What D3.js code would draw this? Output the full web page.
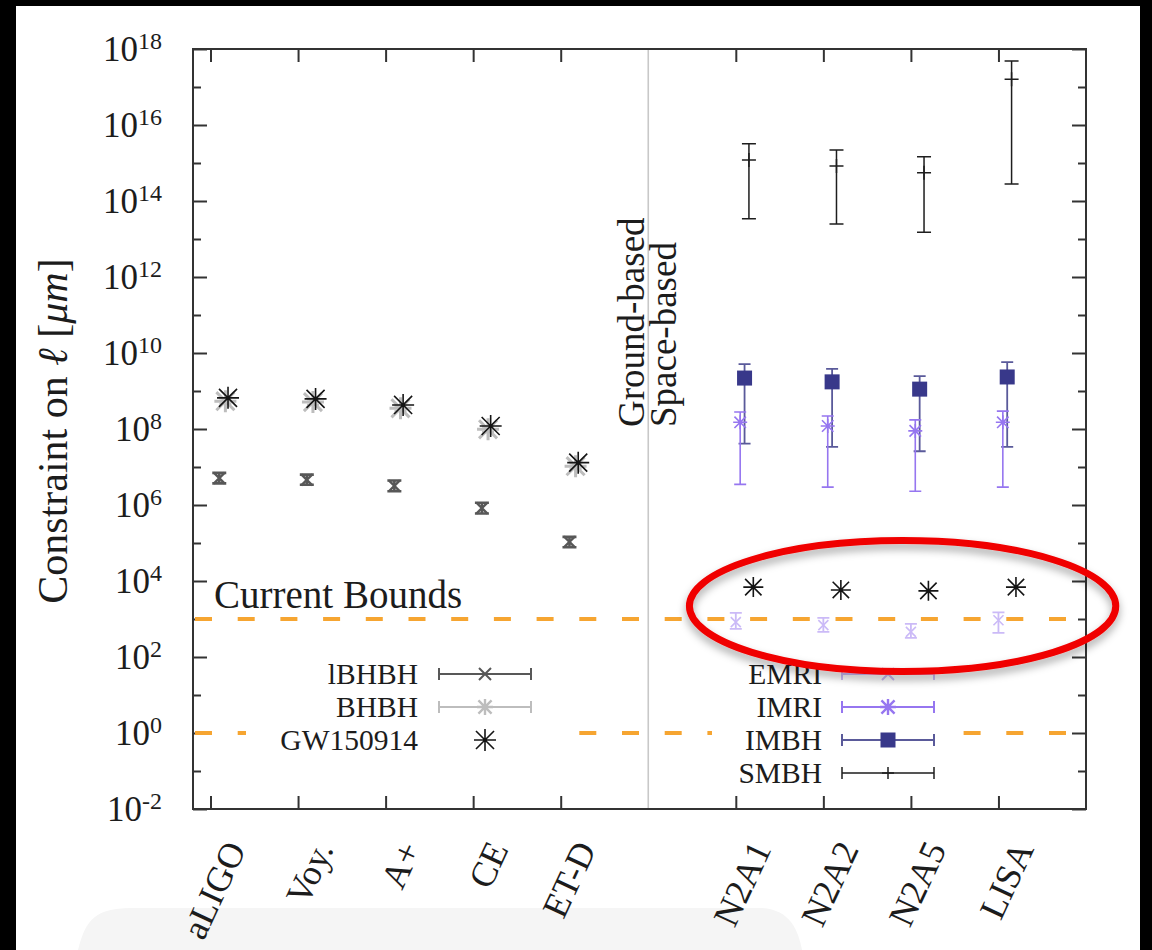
<!DOCTYPE html>
<html><head><meta charset="utf-8">
<script src="https://cdn.jsdelivr.net/npm/d3@7"></script>
<style>
body{margin:0;background:#fff;}
svg{display:block;font-family:"Liberation Serif","DejaVu Serif","Times New Roman",serif;}
</style></head><body>
<svg id="c" width="1152" height="950"></svg>
<script>
// ---------- data ----------
const categories = ["aLIGO","Voy.","A+","CE","ET-D","N2A1","N2A2","N2A5","LISA"];
const catPos     = [1,2,3,4,5,7,8,9,10];
const groundPos  = [1,2,3,4,5];
const spacePos   = [7,8,9,10];
const separatorPos = 6;

// ground-based
const lBHBH     = [5.1e6, 4.6e6, 3.2e6, 8.3e5, 1.07e5];
const lBHBH_lo  = [3.7e6, 3.4e6, 2.3e6, 6.0e5, 7.7e4];
const lBHBH_hi  = [7.0e6, 6.3e6, 4.4e6, 1.15e6, 1.45e5];
const BHBH      = [5.4e8, 5.1e8, 3.5e8, 9.8e7, 1.05e7];
const BHBH_lo   = [4.6e8, 4.3e8, 3.0e8, 8.3e7, 8.9e6];
const BHBH_hi   = [6.4e8, 6.0e8, 4.1e8, 1.16e8, 1.24e7];
const GW150914_ground = [6.6e8, 6.2e8, 4.3e8, 1.2e8, 1.3e7];

// space-based
const GW150914_space = [6.9e3, 5.8e3, 5.5e3, 6.9e3];
const EMRI      = [8.3e2, 6.9e2, 4.6e2, 9.3e2];
const EMRI_lo   = [5.5e2, 4.6e2, 3.2e2, 4.3e2];
const EMRI_hi   = [1.45e3, 1.07e3, 7.4e2, 1.5e3];
const IMRI      = [1.5e8, 1.2e8, 8.9e7, 1.5e8];
const IMRI_lo   = [3.5e6, 2.95e6, 2.3e6, 2.95e6];
const IMRI_hi   = [2.8e8, 2.2e8, 1.74e8, 2.95e8];
const IMBH      = [2.19e9, 1.74e9, 1.12e9, 2.34e9];
const IMBH_lo   = [4.1e7, 3.4e7, 2.6e7, 3.4e7];
const IMBH_hi   = [5.1e9, 3.8e9, 2.45e9, 5.75e9];
const SMBH      = [1.2e15, 8.3e14, 5.5e14, 1.6e17];
const SMBH_lo   = [3.4e13, 2.5e13, 1.5e13, 2.8e14];
const SMBH_hi   = [3.2e15, 2.2e15, 1.45e15, 4.8e17];

const yTickExps = [-2,0,2,4,6,8,10,12,14,16,18];
const boundLines = [1e3, 1e0];
const boundLabel = "Current Bounds";
const yTitleParts = ["Constraint on ", "ℓ", " [", "μm", "]"];
const groundLabel = "Ground-based";
const spaceLabel = "Space-based";

// annotation ellipse (data coordinates)
const ellipseX = [6.47, 11.34];
const ellipseY = [41.5, 1.16e5];

// ---------- styles ----------
const C = {
  lBHBH:"#585858", BHBH:"#bdbdbd", GW:"#151515",
  EMRI:"#cbbaf7", IMRI:"#9676f0", IMBH:"#38388a", IMBHbar:"#5a5a9a", SMBH:"#1e1e1e",
  orange:"#f6a531", axis:"#333", text:"#1c1c1c"
};
const off = {lBHBH:0.1, BHBH:0.17, GW:0.2, EMRI:0.0, IMRI:0.05, IMBH:0.1, SMBH:0.15};

const svg = d3.select("#c");
svg.append("rect").attr("width",1152).attr("height",950).attr("fill","#fff");

const defs = svg.append("defs");
const f = defs.append("filter").attr("id","sh").attr("x","-20%").attr("y","-30%").attr("width","140%").attr("height","160%");
f.append("feDropShadow").attr("dx",0).attr("dy",5).attr("stdDeviation",4).attr("flood-color","#000").attr("flood-opacity",0.35);

// bottom faint shape
svg.append("path").attr("d","M78,950 C86,918 96,909 130,908 L760,908 C790,909 798,930 802,950 Z").attr("fill","#f5f5f5");

const x = d3.scaleLinear().domain([0.8, 11]).range([193, 1086]);
const y = d3.scaleLog().domain([1e-2, 1e18]).range([809, 49]);
const X0 = x.range()[0], X1 = x.range()[1], Y0 = y.range()[1], Y1 = y.range()[0];

// separator line
svg.append("line").attr("x1",x(separatorPos)).attr("x2",x(separatorPos)).attr("y1",Y0).attr("y2",Y1)
  .attr("stroke","#c8c8c8").attr("stroke-width",1.6);

// axes ticks
const yMajor = yTickExps.map(e=>Math.pow(10,e));
const yMinor = yTickExps.slice(0,-1).map(e=>Math.pow(10,e+1));
function styleAxis(g){ g.select(".domain").remove(); g.selectAll("line").attr("stroke",C.axis).attr("stroke-width",2); }
svg.append("g").attr("transform",`translate(${X0},0)`).call(d3.axisRight(y).tickValues(yMajor).tickSize(14).tickFormat("")).call(styleAxis);
svg.append("g").attr("transform",`translate(${X0},0)`).call(d3.axisRight(y).tickValues(yMinor).tickSize(8).tickFormat("")).call(styleAxis);
svg.append("g").attr("transform",`translate(${X1},0)`).call(d3.axisLeft(y).tickValues(yMajor).tickSize(14).tickFormat("")).call(styleAxis);
svg.append("g").attr("transform",`translate(${X1},0)`).call(d3.axisLeft(y).tickValues(yMinor).tickSize(8).tickFormat("")).call(styleAxis);
svg.append("g").attr("transform",`translate(0,${Y1})`).call(d3.axisTop(x).tickValues(catPos).tickSize(13).tickFormat("")).call(styleAxis);
svg.append("g").attr("transform",`translate(0,${Y0})`).call(d3.axisBottom(x).tickValues(catPos).tickSize(13).tickFormat("")).call(styleAxis);

// y tick labels
yTickExps.forEach(e=>{
  const t = svg.append("text").attr("x",X0-31).attr("y",y(Math.pow(10,e))+12)
    .attr("text-anchor","end").attr("fill",C.text).attr("font-size",35);
  t.append("tspan").text("10");
  t.append("tspan").attr("font-size",24).attr("dy",-12).text(String(e));
});

// y title
{
  const t = svg.append("text").attr("transform",`translate(67,${(Y0+Y1)/2+2}) rotate(-90)`)
    .attr("text-anchor","middle").attr("fill",C.text).attr("font-size",42);
  yTitleParts.forEach((p,i)=>{ const s=t.append("tspan").text(p); if(i===3||i===1) s.attr("font-style","italic"); });
}

// category labels
categories.forEach((c,i)=>{
  svg.append("text").attr("transform",`translate(${x(catPos[i])+36},849) rotate(-65)`)
    .attr("text-anchor","end").attr("fill",C.text).attr("font-size",36).text(c);
});

// orange bound lines
boundLines.forEach(v=>{
  svg.append("line").attr("x1",X0+2).attr("x2",X1-2).attr("y1",y(v)).attr("y2",y(v))
    .attr("stroke",C.orange).attr("stroke-width",4).attr("stroke-dasharray","17,25.7");
});
svg.append("text").attr("x",214).attr("y",y(1e3)-11).attr("fill",C.text).attr("font-size",39).text(boundLabel);

// ground/space labels
svg.append("text").attr("transform",`translate(${x(separatorPos)-4},427) rotate(-90)`).attr("fill",C.text).attr("font-size",37).text(groundLabel);
svg.append("text").attr("transform",`translate(${x(separatorPos)+28},427) rotate(-90)`).attr("fill",C.text).attr("font-size",37).text(spaceLabel);

// legend background boxes
svg.append("rect").attr("x",246).attr("y",652).attr("width",316).attr("height",105).attr("fill","#fff");
svg.append("rect").attr("x",712).attr("y",655).attr("width",251).attr("height",135).attr("fill","#fff");

// ---------- marker helpers ----------
function asterisk(g,cx,cy,r,col,sw){
  const d = r*0.82;
  g.append("path").attr("d",`M${cx-r},${cy}H${cx+r}M${cx},${cy-r}V${cy+r}M${cx-d},${cy-d}L${cx+d},${cy+d}M${cx-d},${cy+d}L${cx+d},${cy-d}`)
    .attr("stroke",col).attr("stroke-width",sw).attr("fill","none");
}
function cross(g,cx,cy,r,col,sw){
  g.append("path").attr("d",`M${cx-r},${cy-r}L${cx+r},${cy+r}M${cx-r},${cy+r}L${cx+r},${cy-r}`)
    .attr("stroke",col).attr("stroke-width",sw).attr("fill","none");
}
function plus(g,cx,cy,r,col,sw){
  g.append("path").attr("d",`M${cx-r},${cy}H${cx+r}M${cx},${cy-r}V${cy+r}`)
    .attr("stroke",col).attr("stroke-width",sw).attr("fill","none");
}
function square(g,cx,cy,s,col){
  g.append("rect").attr("x",cx-s/2).attr("y",cy-s/2).attr("width",s).attr("height",s).attr("fill",col);
}
function vbar(g,cx,lo,hi,cap,col,sw){
  g.append("path").attr("d",`M${cx},${lo}V${hi}M${cx-cap},${lo}H${cx+cap}M${cx-cap},${hi}H${cx+cap}`)
    .attr("stroke",col).attr("stroke-width",sw).attr("fill","none");
}
function hbar(g,x1,x2,cy,cap,col,sw){
  g.append("path").attr("d",`M${x1},${cy}H${x2}M${x1},${cy-cap}V${cy+cap}M${x2},${cy-cap}V${cy+cap}`)
    .attr("stroke",col).attr("stroke-width",sw).attr("fill","none");
}

const gP = svg.append("g");
// ground-based
groundPos.forEach((p,i)=>{
  const xb = x(p+off.BHBH);
  vbar(gP,xb,y(BHBH_lo[i]),y(BHBH_hi[i]),6,C.BHBH,2.2);
  asterisk(gP,xb,y(BHBH[i]),11,C.BHBH,3);
  const xl = x(p+off.lBHBH);
  vbar(gP,xl,y(lBHBH_lo[i]),y(lBHBH_hi[i]),7,C.lBHBH,2.6);
  cross(gP,xl,y(lBHBH[i]),5.5,C.lBHBH,2.4);
  const xg = x(p+off.GW);
  asterisk(gP,xg,y(GW150914_ground[i]),11,C.GW,1.6);
  gP.append("circle").attr("cx",xg).attr("cy",y(GW150914_ground[i])).attr("r",1.8).attr("fill",C.GW);
});
// space-based
spacePos.forEach((p,i)=>{
  const xs = x(p+off.SMBH);
  vbar(gP,xs,y(SMBH_lo[i]),y(SMBH_hi[i]),7,C.SMBH,1.5);
  plus(gP,xs,y(SMBH[i]),7,C.SMBH,1.5);
  const xm = x(p+off.IMBH);
  vbar(gP,xm,y(IMBH_lo[i]),y(IMBH_hi[i]),6,C.IMBHbar,1.8);
  square(gP,xm,y(IMBH[i]),15,C.IMBH);
  const xi = x(p+off.IMRI);
  vbar(gP,xi,y(IMRI_lo[i]),y(IMRI_hi[i]),6,C.IMRI,1.6);
  asterisk(gP,xi,y(IMRI[i]),7,C.IMRI,1.6);
  const xe = x(p+off.EMRI);
  vbar(gP,xe,y(EMRI_lo[i]),y(EMRI_hi[i]),6,C.EMRI,1.8);
  cross(gP,xe,y(EMRI[i]),5,C.EMRI,1.6);
  const xg = x(p+off.GW);
  asterisk(gP,xg,y(GW150914_space[i]),10,C.GW,1.6);
  gP.append("circle").attr("cx",xg).attr("cy",y(GW150914_space[i])).attr("r",1.8).attr("fill",C.GW);
});

// ---------- legends ----------
const legL = [
  {name:"lBHBH", col:C.lBHBH, yy:674, type:"bar", mk:"cross"},
  {name:"BHBH", col:C.BHBH, yy:707, type:"bar", mk:"ast"},
  {name:"GW150914", col:C.GW, yy:740, type:"pt", mk:"ast"}
];
const legR = [
  {name:"EMRI", col:C.EMRI, yy:674, type:"bar", mk:"cross"},
  {name:"IMRI", col:C.IMRI, yy:707, type:"bar", mk:"ast"},
  {name:"IMBH", col:C.IMBH, bar:C.IMBHbar, yy:740, type:"bar", mk:"sq"},
  {name:"SMBH", col:C.SMBH, yy:773, type:"bar", mk:"plus"}
];
function drawLegend(items, tx, s1, s2){
  const mx = (s1+s2)/2;
  items.forEach(it=>{
    svg.append("text").attr("x",tx).attr("y",it.yy+10).attr("text-anchor","end")
      .attr("fill",C.text).attr("font-size",29.5).text(it.name);
    if(it.type==="bar") hbar(svg,s1,s2,it.yy,6,it.bar||it.col, it.mk==="plus"?1.5:2);
    if(it.mk==="cross") cross(svg,mx,it.yy,6,it.col,2);
    if(it.mk==="ast"){ asterisk(svg,mx,it.yy,it.type==="pt"?11:8,it.col,it.type==="pt"?1.6:2.4);
      if(it.type==="pt") svg.append("circle").attr("cx",mx).attr("cy",it.yy).attr("r",1.8).attr("fill",it.col); }
    if(it.mk==="sq") square(svg,mx,it.yy,15,it.col);
    if(it.mk==="plus") plus(svg,mx,it.yy,6,it.col,1.5);
  });
}
drawLegend(legL, 418, 439, 531);
drawLegend(legR, 822, 842, 934);

// frame
svg.append("rect").attr("x",X0).attr("y",Y0).attr("width",X1-X0).attr("height",Y1-Y0)
  .attr("fill","none").attr("stroke",C.axis).attr("stroke-width",2);

// red annotation ellipse
{
  const cx=(x(ellipseX[0])+x(ellipseX[1]))/2, cy=(y(ellipseY[0])+y(ellipseY[1]))/2;
  const rx=(x(ellipseX[1])-x(ellipseX[0]))/2, ry=(y(ellipseY[0])-y(ellipseY[1]))/2;
  svg.append("ellipse").attr("cx",cx).attr("cy",cy).attr("rx",rx).attr("ry",ry)
    .attr("fill","none").attr("stroke","#f00000").attr("stroke-width",7).attr("filter","url(#sh)");
}

// black borders
svg.append("rect").attr("x",0).attr("y",0).attr("width",16).attr("height",950).attr("fill","#000");
svg.append("rect").attr("x",0).attr("y",0).attr("width",1152).attr("height",6).attr("fill","#000");
svg.append("rect").attr("x",1140).attr("y",0).attr("width",12).attr("height",950).attr("fill","#000");
</script>
</body></html>
